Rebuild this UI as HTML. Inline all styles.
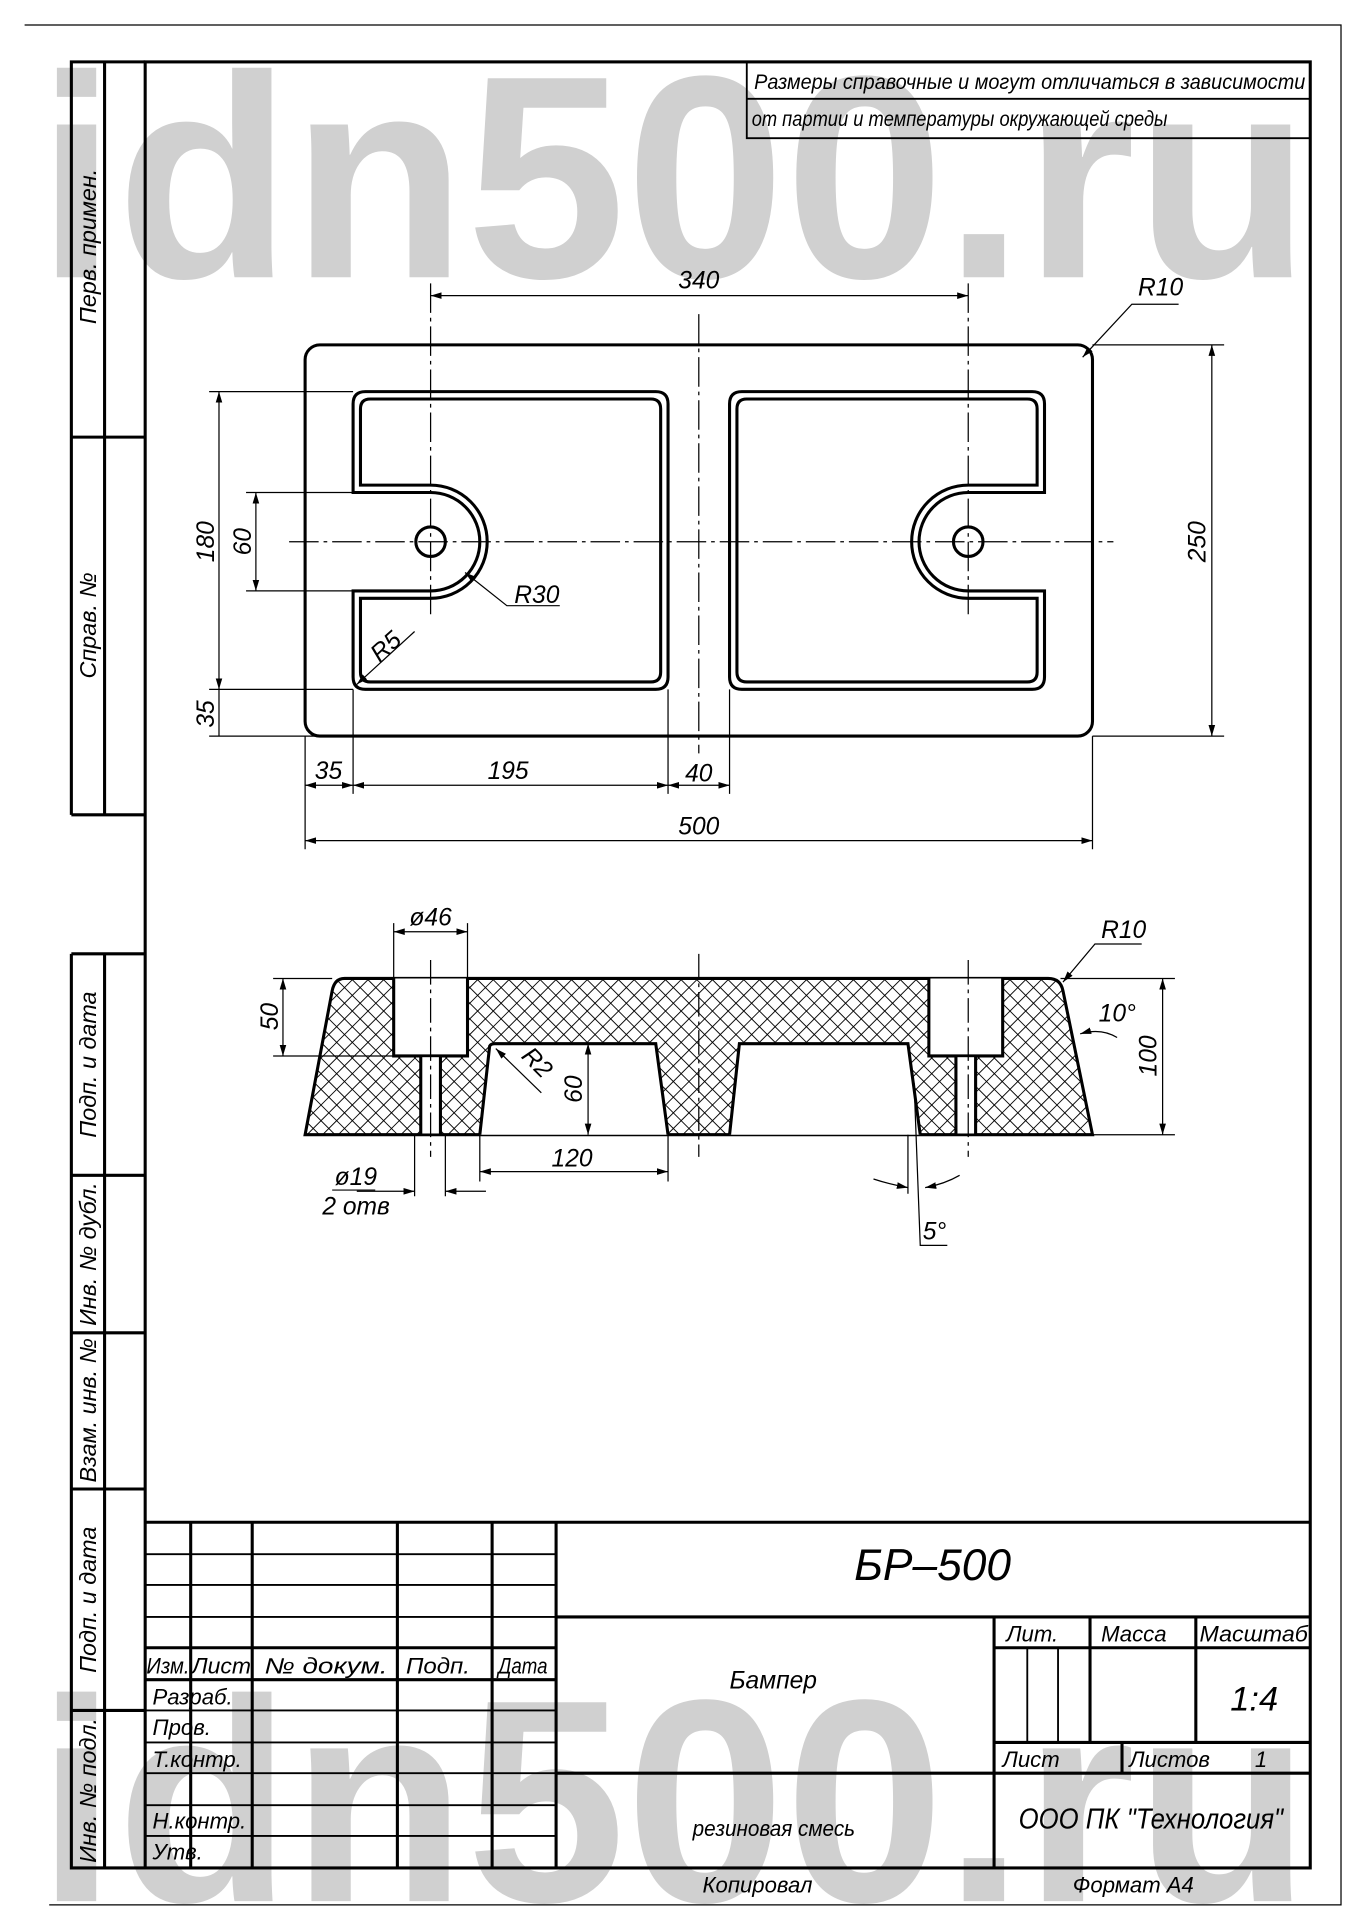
<!DOCTYPE html>
<html><head><meta charset="utf-8"><style>
html,body{margin:0;padding:0;background:#fff}
svg{display:block}
text{font-family:"Liberation Sans",sans-serif;font-style:italic;fill:#000}
</style></head><body>
<svg width="1357" height="1920" viewBox="0 0 1103 1560" xmlns="http://www.w3.org/2000/svg">
<defs>
<pattern id="h" width="9" height="9" patternUnits="userSpaceOnUse" patternTransform="rotate(45)">
<rect width="9" height="9" fill="#fff"/>
<line x1="0" y1="0" x2="0" y2="9" stroke="#000" stroke-width="1.5"/>
<line x1="0" y1="0" x2="9" y2="0" stroke="#000" stroke-width="1.5"/>
</pattern>
<marker id="a" viewBox="0 0 10 10" refX="10" refY="5" markerWidth="9" markerHeight="9" orient="auto-start-reverse" markerUnits="userSpaceOnUse"><path d="M0,2 L10,5 L0,8z" fill="#000"/></marker>
</defs>
<g font-family="Liberation Sans" font-weight="bold">
<text x="30" y="225" font-size="235" style="font-style:normal;fill:#d0d0d0" textLength="1035" lengthAdjust="spacingAndGlyphs">idn500.ru</text>
<text x="30" y="1545" font-size="235" style="font-style:normal;fill:#d0d0d0" textLength="1035" lengthAdjust="spacingAndGlyphs">idn500.ru</text>
</g>
<path d="M20,20 H1090 V1548 H40" fill="none" stroke="#000" stroke-width="1"/>
<g fill="none" stroke="#000" stroke-width="2.5">
<rect x="118" y="50" width="947" height="1468"/>
<path d="M58,662 V50 H118 M85,50 V662 M58,355 H118 M58,662 H118"/>
<path d="M58,775 V1518 H118 M85,775 V1518 M58,775 H118 M58,955 H118 M58,1083 H118 M58,1210 H118 M58,1390 H118"/>
<path d="M607,50 V112 H1065 M607,80 H1065" stroke-width="1.5"/>
</g>
<g font-size="17">
<text x="613" y="72" textLength="448" lengthAdjust="spacingAndGlyphs">Размеры справочные и могут отличаться в зависимости</text>
<text x="611" y="102" textLength="338" lengthAdjust="spacingAndGlyphs">от партии и температуры окружающей среды</text>
</g>
<g font-size="19">
<text transform="translate(78,200) rotate(-90)" text-anchor="middle">Перв. примен.</text>
<text transform="translate(78,508) rotate(-90)" text-anchor="middle">Справ. №</text>
<text transform="translate(78,865) rotate(-90)" text-anchor="middle">Подп. и дата</text>
<text transform="translate(78,1019) rotate(-90)" text-anchor="middle">Инв. № дубл.</text>
<text transform="translate(78,1146) rotate(-90)" text-anchor="middle">Взам. инв. №</text>
<text transform="translate(78,1300) rotate(-90)" text-anchor="middle">Подп. и дата</text>
<text transform="translate(78,1455) rotate(-90)" text-anchor="middle">Инв. № подл.</text>
</g>
<g fill="none" stroke="#000" stroke-width="2.5">
<path d="M118,1237 H1065 M155,1237 V1518 M205,1237 V1518 M323,1237 V1518 M400,1237 V1518 M452,1237 V1518"/>
<path d="M118,1339 H452 M118,1365 H452 M452,1314 H1065 M808,1314 V1518 M808,1339 H1065 M886,1314 V1416 M972,1314 V1416 M808,1416 H1065 M912,1416 V1441 M452,1441 H1065"/>
<path d="M118,1263 H452 M118,1288 H452 M118,1314 H452 M118,1390 H452 M118,1416 H452 M118,1441 H452 M118,1467 H452 M118,1492 H452 M835,1339 V1416 M860,1339 V1416" stroke-width="1.5"/>
</g>
<g font-size="18">
<text x="119" y="1360" textLength="35" lengthAdjust="spacingAndGlyphs">Изм.</text>
<text x="156" y="1360" textLength="48" lengthAdjust="spacingAndGlyphs">Лист</text>
<text x="215" y="1360" textLength="100" lengthAdjust="spacingAndGlyphs">№ докум.</text>
<text x="330" y="1360" textLength="52" lengthAdjust="spacingAndGlyphs">Подп.</text>
<text x="405" y="1360" textLength="40" lengthAdjust="spacingAndGlyphs">Дата</text>
<text x="124" y="1385">Разраб.</text>
<text x="124" y="1410">Пров.</text>
<text x="124" y="1436">Т.контр.</text>
<text x="124" y="1486">Н.контр.</text>
<text x="124" y="1511">Утв.</text>
<text x="818" y="1334">Лит.</text>
<text x="895" y="1334">Масса</text>
<text x="975" y="1334" textLength="88" lengthAdjust="spacingAndGlyphs">Масштаб</text>
<text x="815" y="1436">Лист</text>
<text x="918" y="1436">Листов</text>
<text x="1020" y="1436">1</text>
<text x="593" y="1372" font-size="20">Бампер</text>
<text x="563" y="1492" textLength="132" lengthAdjust="spacingAndGlyphs">резиновая смесь</text>
<text x="571" y="1538">Копировал</text>
<text x="872" y="1538">Формат  А4</text>
</g>
<text x="1000" y="1390" font-size="28">1:4</text>
<text x="828" y="1486" font-size="23" textLength="215" lengthAdjust="spacingAndGlyphs">ООО ПК "Технология"</text>
<text x="758" y="1284" font-size="36" text-anchor="middle">БР–500</text>

<g fill="none" stroke="#000">
<rect x="248" y="280" width="640" height="318" rx="12" stroke-width="2.5"/>
<path d="M297,318 H533 Q543,318 543,328 V550 Q543,560 533,560 H297 Q287,560 287,550 V480 H350 A40 40 0 0 0 350,400 H287 V328 Q287,318 297,318Z" stroke-width="2.5"/>
<path d="M301,324 H529 Q537,324 537,332 V546 Q537,554 529,554 H301 Q293,554 293,546 V486 H350 A46 46 0 0 0 350,394 H293 V332 Q293,324 301,324Z" stroke-width="2.5"/>
<g transform="translate(1136,0) scale(-1,1)">
<path d="M297,318 H533 Q543,318 543,328 V550 Q543,560 533,560 H297 Q287,560 287,550 V480 H349 A40 40 0 0 0 349,400 H287 V328 Q287,318 297,318Z" stroke-width="2.5"/>
<path d="M301,324 H529 Q537,324 537,332 V546 Q537,554 529,554 H301 Q293,554 293,546 V486 H349 A46 46 0 0 0 349,394 H293 V332 Q293,324 301,324Z" stroke-width="2.5"/>
</g>
<circle cx="350" cy="440" r="12" stroke-width="2.5"/>
<circle cx="787" cy="440" r="12" stroke-width="2.5"/>
<g stroke-width="1" stroke-dasharray="24,4,3,4">
<path d="M568,255 V612 M235,440 H905 M350,230 V500 M787,230 V500"/>
</g>
<g stroke-width="1">
<path d="M350,240 H787" marker-start="url(#a)" marker-end="url(#a)"/>
<path d="M880,290 L920,247 H958" marker-start="url(#a)"/>
<path d="M888,280 H995 M888,598 H995"/>
<path d="M985,280 V598" marker-start="url(#a)" marker-end="url(#a)"/>
<path d="M287,318 H170 M287,598 H170 M287,560 H170 M287,400 H200 M287,480 H200"/>
<path d="M178,318 V560" marker-start="url(#a)" marker-end="url(#a)"/>
<path d="M208,400 V480" marker-start="url(#a)" marker-end="url(#a)"/>
<path d="M178,560 V598"/>
<path d="M290,556 L337,513" marker-start="url(#a)"/>
<path d="M378,465 L412,492 H455" marker-start="url(#a)"/>
<path d="M248,598 V690 M287,560 V645 M543,560 V645 M593,560 V645 M888,598 V690"/>
<path d="M248,638 H287" marker-start="url(#a)" marker-end="url(#a)"/>
<path d="M287,638 H543" marker-start="url(#a)" marker-end="url(#a)"/>
<path d="M543,638 H593" marker-start="url(#a)" marker-end="url(#a)"/>
<path d="M248,683 H888" marker-start="url(#a)" marker-end="url(#a)"/>
</g>
</g>
<g font-size="20">
<text x="568" y="234" text-anchor="middle">340</text>
<text x="925" y="240">R10</text>
<text transform="translate(980,440) rotate(-90)" text-anchor="middle">250</text>
<text transform="translate(174,440) rotate(-90)" text-anchor="middle">180</text>
<text transform="translate(204,440) rotate(-90)" text-anchor="middle">60</text>
<text transform="translate(174,580) rotate(-90)" text-anchor="middle">35</text>
<text transform="translate(318,530) rotate(-42)" text-anchor="middle">R5</text>
<text x="418" y="490">R30</text>
<text x="267" y="633" text-anchor="middle">35</text>
<text x="413" y="633" text-anchor="middle">195</text>
<text x="568" y="635" text-anchor="middle">40</text>
<text x="568" y="678" text-anchor="middle">500</text>
</g>

<path d="M280,795 H852 Q862,795 864,805 L888,922 H248 L270,805 Q272,795 280,795Z" fill="url(#h)" stroke="#000" stroke-width="2.5"/>
<g fill="#fff" stroke="#000" stroke-width="2.5">
<path d="M320,795 V858 H380 V795"/>
<rect x="343" y="859" width="14" height="62" stroke="none"/>
<path d="M342,858 V922 M358,858 V922"/>
<path d="M755,795 V858 H815 V795"/>
<rect x="778" y="859" width="14" height="62" stroke="none"/>
<path d="M777,858 V922 M793,858 V922"/>
<path d="M390,922 L398,850 Q399,848 402,848 H533 L543,922"/>
<path d="M593,922 L601,848 H738 L748,922"/>
</g>
<g fill="none" stroke="#000" stroke-width="1">
<path d="M350,780 V940 M787,780 V940 M568,775 V940" stroke-dasharray="20,4,3,4"/>
<path d="M320,795 V750 M380,795 V750"/>
<path d="M320,757 H380" marker-start="url(#a)" marker-end="url(#a)"/>
<path d="M222,795 H270 M222,858 H320"/>
<path d="M230,795 V858" marker-start="url(#a)" marker-end="url(#a)"/>
<path d="M862,795 H955 M888,922 H955"/>
<path d="M945,795 V922" marker-start="url(#a)" marker-end="url(#a)"/>
<path d="M864,798 L890,767 H928" marker-start="url(#a)"/>
<path d="M878,840 Q895,835 908,843" marker-start="url(#a)"/>
<path d="M478,848 V922" marker-start="url(#a)" marker-end="url(#a)"/>
<path d="M403,852 L440,888" marker-start="url(#a)"/>
<path d="M390,922 V960 M543,922 V960"/>
<path d="M390,952 H543" marker-start="url(#a)" marker-end="url(#a)"/>
<path d="M337,922 V972 M362,922 V972"/>
<path d="M290,968 H337" marker-end="url(#a)"/>
<path d="M395,968 H362" marker-end="url(#a)"/>
<path d="M270,967 H305"/>
<path d="M738,922 V970 M743,880 L748,1012 H770"/>
<path d="M710,958 Q722,962 738,965" marker-end="url(#a)"/>
<path d="M780,955 Q768,962 752,965" marker-end="url(#a)"/>
</g>
<g font-size="20">
<text x="350" y="752" text-anchor="middle">ø46</text>
<text transform="translate(226,826) rotate(-90)" text-anchor="middle">50</text>
<text transform="translate(940,858) rotate(-90)" text-anchor="middle">100</text>
<text x="895" y="762">R10</text>
<text x="893" y="830">10°</text>
<text transform="translate(473,885) rotate(-90)" text-anchor="middle">60</text>
<text transform="translate(432,868) rotate(45)" text-anchor="middle">R2</text>
<text x="465" y="948" text-anchor="middle">120</text>
<text x="272" y="963">ø19</text>
<text x="262" y="987">2 отв</text>
<text x="750" y="1007">5°</text>
</g>
</svg>
</body></html>
